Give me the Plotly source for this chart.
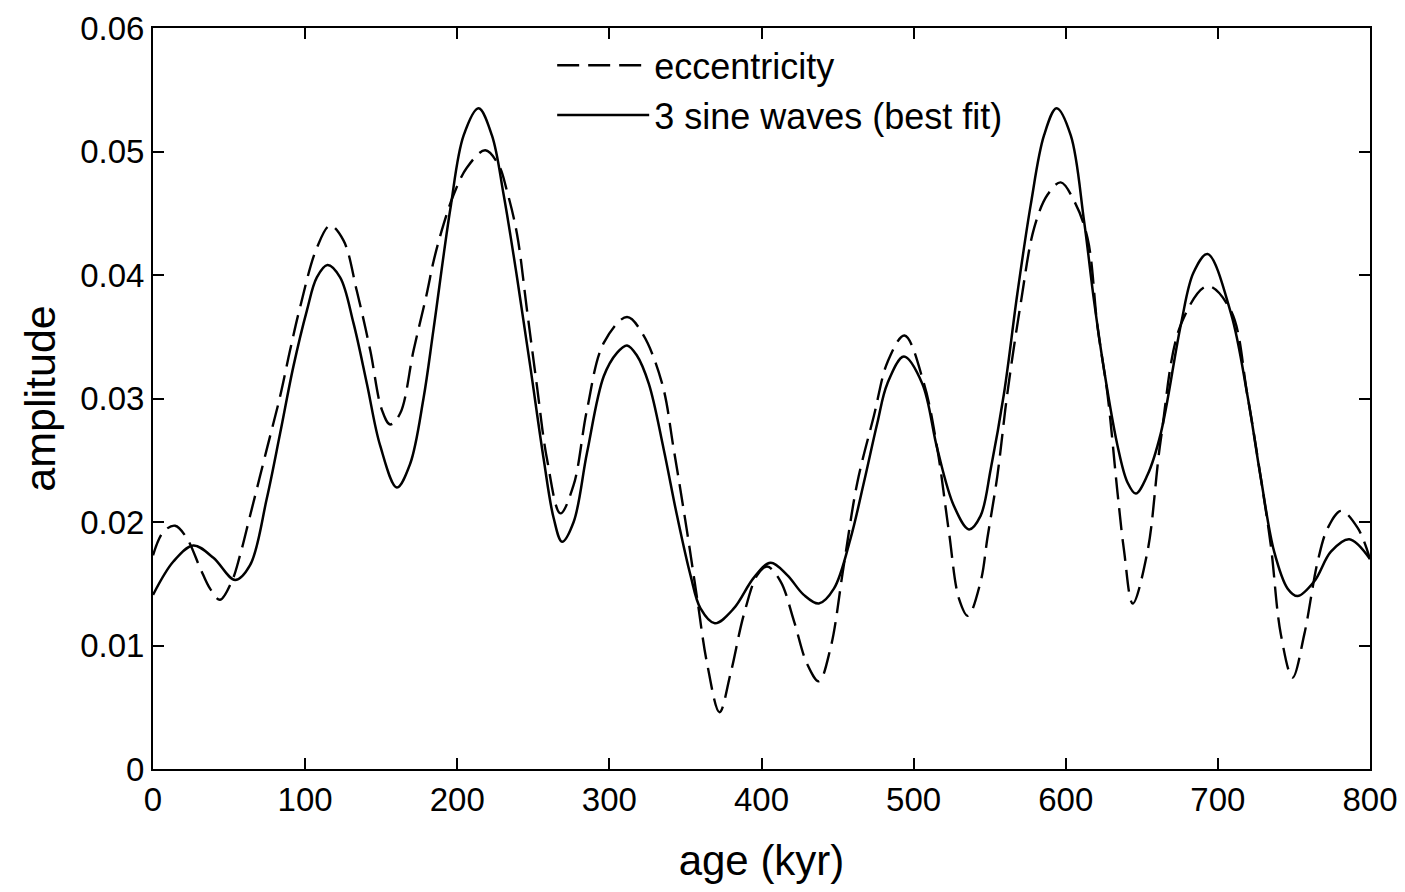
import plotly.graph_objects as go

# eccentricity (dashed)
ecc_age = [0, 6.8, 14.5, 22.2, 30.9, 37.5, 44, 51.8, 57.2, 63.8, 74.8, 83.6, 90.1, 96.7, 107.7, 116.4, 125.2,
           134, 142.8, 150.4, 155.9, 162.5, 171.3, 180, 184.4, 191, 197.6, 206.4, 218.4, 227.2, 232.7, 239.3,
           245.9, 252.4, 259, 267.8, 276.5, 285.3, 296.3, 311.6, 322, 334.7, 342.3, 351.1, 357.7, 364.3, 372.4,
           379.6, 388.4, 397.2, 403.7, 412.5, 421.3, 430, 437.7, 445.4, 454.1, 463, 473.9, 483, 494, 506.8,
           515.6, 523.2, 529.8, 535.7, 544.1, 548.5, 555, 561.6, 570.4, 579.2, 588, 596.7, 605.5, 614.3, 620.9,
           627.4, 634, 638.4, 644, 653.7, 662.5, 675.7, 693.2, 708.6, 719.5, 728.3, 734.8, 741.4, 749.1, 756.8,
           765.6, 772.2, 781, 792, 800]
ecc_val = [0.0173, 0.0192, 0.0197, 0.0187, 0.0163, 0.0146, 0.0137, 0.0152, 0.0173, 0.0205, 0.0259, 0.0302,
           0.0339, 0.0374, 0.0422, 0.0440, 0.0428, 0.0387, 0.0339, 0.0291, 0.0279, 0.0288, 0.0339, 0.0385,
           0.0411, 0.0441, 0.0465, 0.0487, 0.0501, 0.0489, 0.0468, 0.0433, 0.0371, 0.0310, 0.0251, 0.0207,
           0.0230, 0.0291, 0.0345, 0.0366, 0.0352, 0.0312, 0.0259, 0.0192, 0.0138, 0.0085, 0.0046, 0.0077,
           0.0125, 0.0157, 0.0164, 0.0152, 0.0120, 0.0085, 0.0071, 0.0098, 0.0165, 0.0232, 0.0286, 0.0330,
           0.0351, 0.0312, 0.0259, 0.0192, 0.0138, 0.0124, 0.0152, 0.0187, 0.0237, 0.0304, 0.0377, 0.0438,
           0.0465, 0.0475, 0.0460, 0.0430, 0.0358, 0.0304, 0.0224, 0.0176, 0.0134, 0.0176, 0.0267, 0.0360,
           0.0391, 0.0371, 0.0302, 0.0235, 0.0181, 0.0109, 0.0074, 0.0109, 0.0168, 0.0195, 0.0209, 0.0195,
           0.0170]

# 3 sine waves best fit (solid)
fit_age = [0, 13.4, 26.5, 39.7, 54, 63.8, 74.8, 83.6, 92.3, 101.1, 107.7, 114.7, 123, 131.8, 140.6, 149.3,
           160.3, 169, 177.8, 184.4, 195.4, 204.2, 214, 222.8, 230.5, 239.3, 248, 256.8, 263.4, 268.9, 276.5,
           285.3, 296.3, 305, 311.6, 318, 325.9, 335.7, 344.5, 353.3, 359.9, 369.3, 381.8, 395, 406, 416.9,
           427.8, 437.7, 447.6, 458.6, 467.3, 476.1, 482.7, 493.6, 505.7, 515.6, 526.5, 536.4, 544, 550.7,
           559.4, 568.2, 577, 585.7, 594, 603.3, 612, 618.6, 625.2, 634, 640.6, 646, 653.7, 662.5, 675.7, 684,
           693.2, 708.6, 719.5, 728.3, 737, 745.9, 752.4, 763.4, 774.3, 786.4, 800]
fit_val = [0.0141, 0.0168, 0.0181, 0.0171, 0.0153, 0.0165, 0.0219, 0.0272, 0.0326, 0.0371, 0.0398, 0.0408,
           0.0398, 0.0361, 0.0312, 0.0262, 0.0228, 0.0247, 0.0300, 0.0356, 0.0453, 0.0513, 0.0535, 0.0513,
           0.0465, 0.0398, 0.0326, 0.0251, 0.0203, 0.0184, 0.0200, 0.0256, 0.0318, 0.0337, 0.0343, 0.0335,
           0.0312, 0.0259, 0.0205, 0.0157, 0.0130, 0.0118, 0.0130, 0.0155, 0.0167, 0.0157, 0.0141, 0.0134,
           0.0146, 0.0187, 0.0232, 0.0280, 0.0312, 0.0334, 0.0312, 0.0259, 0.0213, 0.0194, 0.0205, 0.0243,
           0.0304, 0.0385, 0.0457, 0.0513, 0.0535, 0.0513, 0.0444, 0.0379, 0.0323, 0.0262, 0.0232, 0.0223,
           0.0238, 0.0272, 0.0360, 0.0402, 0.0417, 0.0369, 0.0302, 0.0235, 0.0176, 0.0146, 0.0140, 0.0152,
           0.0176, 0.0186, 0.0170]

x_ticks = [0, 100, 200, 300, 400, 500, 600, 700, 800]
y_ticks = [0, 0.01, 0.02, 0.03, 0.04, 0.05, 0.06]
y_tick_text = ["0", "0.01", "0.02", "0.03", "0.04", "0.05", "0.06"]

FONT = "Liberation Sans, Arial, Helvetica, sans-serif"

fig = go.Figure()
fig.add_trace(go.Scatter(
    x=ecc_age, y=ecc_val, mode="lines", name="eccentricity",
    line=dict(color="black", width=2.4, dash="22px,9px", shape="spline", smoothing=1.0),
))
fig.add_trace(go.Scatter(
    x=fit_age, y=fit_val, mode="lines", name="3 sine waves (best fit)",
    line=dict(color="black", width=2.5, shape="spline", smoothing=1.0),
))

axis_common = dict(
    showline=True, linecolor="black", linewidth=2, mirror="ticks",
    ticks="inside", ticklen=11, tickwidth=2, tickcolor="black",
    showgrid=False, zeroline=False, ticklabeloverflow="allow", automargin=False,
    tickfont=dict(family=FONT, size=33, color="black"),
)

fig.update_layout(
    width=1405, height=892,
    margin=dict(l=145, r=43, t=20, b=131),
    paper_bgcolor="white", plot_bgcolor="white",
    font=dict(family=FONT, color="black"),
    xaxis=dict(range=[0, 800], tickvals=x_ticks, **axis_common,
               title=dict(text="age (kyr)", font=dict(family=FONT, size=42, color="black"), standoff=29)),
    yaxis=dict(range=[0, 0.06], tickvals=y_ticks, ticktext=y_tick_text, **axis_common,
               title=dict(text="amplitude", font=dict(family=FONT, size=43, color="black"), standoff=11)),
    legend=dict(x=0.328, y=0.99, xanchor="left", yanchor="top",
                bgcolor="rgba(0,0,0,0)", borderwidth=0,
                font=dict(family=FONT, size=36, color="black"),
                itemwidth=92),
    showlegend=True,
)

fig.write_html("out.html")
